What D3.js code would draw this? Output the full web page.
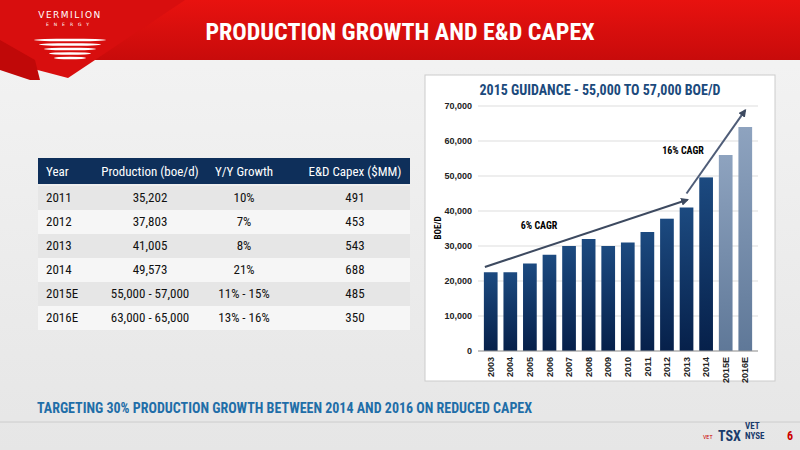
<!DOCTYPE html><html><head><meta charset="utf-8"><script src="https://cdn.jsdelivr.net/npm/d3@7"></script>
<style>body{margin:0}svg{font-family:"Liberation Sans Narrow","Roboto Condensed",Arial,sans-serif}</style></head><body>
<svg id="s" width="800" height="450"></svg>
<script>
const years=["2003","2004","2005","2006","2007","2008","2009","2010","2011","2012","2013","2014","2015E","2016E"];
const production=[22500,22500,25000,27500,30000,32000,30000,31000,34000,37800,41000,49600,56000,64000];
const estimated=[false,false,false,false,false,false,false,false,false,false,false,false,true,true];
const yTicks=[0,10000,20000,30000,40000,50000,60000,70000];
const tableHeader=["Year","Production (boe/d)","Y/Y Growth","E&D Capex ($MM)"];
const tableYears=["2011","2012","2013","2014","2015E","2016E"];
const tableProd=["35,202","37,803","41,005","49,573","55,000 - 57,000","63,000 - 65,000"];
const tableGrowth=["10%","7%","8%","21%","11% - 15%","13% - 16%"];
const tableCapex=["491","453","543","688","485","350"];

const svg=d3.select("#s");
const defs=svg.append("defs");
const bg=defs.append("linearGradient").attr("id","bg").attr("x1",0).attr("y1",0).attr("x2",0).attr("y2",1);
bg.append("stop").attr("offset",0).attr("stop-color","#f4f4f4");bg.append("stop").attr("offset",1).attr("stop-color","#e6e6e6");
svg.append("rect").attr("width",800).attr("height",450).attr("fill","url(#bg)");
// header
const rg=defs.append("linearGradient").attr("id","rg").attr("x1",0).attr("y1",0).attr("x2",0).attr("y2",1);
rg.append("stop").attr("offset",0).attr("stop-color","#e8120f");rg.append("stop").attr("offset",1).attr("stop-color","#c80b0b");
svg.append("rect").attr("width",800).attr("height",60).attr("fill","url(#rg)");
svg.append("path").attr("d","M0,0L185,0L68,78L30,68L0,45Z").attr("fill","#d80e0e");
svg.append("path").attr("d","M0,40L35,60L40,80L30,80L0,70Z").attr("fill","#c00808");
svg.append("text").attr("x",70).attr("y",18).attr("text-anchor","middle").attr("fill","#fff").attr("font-size",9).attr("font-family","DejaVu Sans").attr("letter-spacing",1.5).text("VERMILION");
svg.append("text").attr("x",70).attr("y",26).attr("text-anchor","middle").attr("fill","#fff").attr("font-size",4.5).attr("font-family","DejaVu Sans").attr("letter-spacing",5).text("ENERGY");
[0,1,2,3,4].forEach(i=>svg.append("ellipse").attr("cx",70).attr("cy",40+i*4.5).attr("rx",36-i*5).attr("ry",1.3).attr("fill","#fff"));
svg.append("text").attr("x",400).attr("y",40).attr("text-anchor","middle").attr("fill","#fff").attr("font-size",24).attr("font-weight","bold").text("PRODUCTION GROWTH AND E&D CAPEX");

// chart panel
svg.append("rect").attr("x",425).attr("y",75).attr("width",350).attr("height",306).attr("fill","#fff").attr("stroke","#ccc");
svg.append("text").attr("x",600).attr("y",95).attr("text-anchor","middle").attr("fill","#1b4a7c").attr("font-size",14).attr("font-weight","bold").text("2015 GUIDANCE - 55,000 TO 57,000 BOE/D");
const x=d3.scaleBand().domain(years).range([478,758]).padding(0.3);
const y=d3.scaleLinear().domain([0,70000]).range([351,106]);
const g=svg.append("g");
g.selectAll(".gl").data(yTicks).join("line").attr("x1",478).attr("x2",758).attr("y1",d=>y(d)).attr("y2",d=>y(d)).attr("stroke","#ddd");
const ya=g.append("g").attr("transform","translate(478,0)").call(d3.axisLeft(y).tickValues(yTicks).tickSize(0).tickPadding(6).tickFormat(d3.format(",")));
ya.select(".domain").remove();ya.selectAll("text").attr("font-size",9).attr("font-weight","bold").attr("fill","#222").attr("font-family","Liberation Sans Narrow, Arial");
const bgd=defs.append("linearGradient").attr("id","bd").attr("x1",0).attr("y1",0).attr("x2",0).attr("y2",1);
bgd.append("stop").attr("offset",0).attr("stop-color","#1c4a80");bgd.append("stop").attr("offset",1).attr("stop-color","#06204a");
const bge=defs.append("linearGradient").attr("id","be").attr("x1",0).attr("y1",0).attr("x2",0).attr("y2",1);
bge.append("stop").attr("offset",0).attr("stop-color","#8ea3bf");bge.append("stop").attr("offset",1).attr("stop-color","#5f7898");
g.selectAll(".b").data(years).join("rect").attr("x",d=>x(d)).attr("width",x.bandwidth()).attr("y",(d,i)=>y(production[i])).attr("height",(d,i)=>y(0)-y(production[i])).attr("fill",(d,i)=>estimated[i]?"url(#be)":"url(#bd)");
g.append("line").attr("x1",478).attr("x2",758).attr("y1",y(0)).attr("y2",y(0)).attr("stroke","#999");
const xa=g.append("g").attr("transform",`translate(0,${y(0)})`).call(d3.axisBottom(x).tickSize(0));
xa.select(".domain").remove();
xa.selectAll("text").attr("transform","rotate(-90)").attr("x",-6).attr("y",0).attr("dy","0.35em").attr("text-anchor","end").attr("font-size",9).attr("font-weight","bold").attr("fill","#222");
svg.append("text").attr("transform","translate(441,228) rotate(-90)").attr("text-anchor","middle").attr("font-size",9).attr("font-weight","bold").text("BOE/D");
// arrows
const mk=defs.append("marker").attr("id","ar").attr("viewBox","0 0 10 10").attr("refX",8).attr("refY",5).attr("markerWidth",4).attr("markerHeight",4).attr("orient","auto");
mk.append("path").attr("d","M0,0L10,5L0,10Z").attr("fill","#3d4a60");
const xi=i=>x(years[0])+x.step()*i+x.bandwidth()/2;
svg.append("line").attr("x1",xi(-0.3)).attr("y1",y(24000)).attr("x2",xi(10.05)).attr("y2",y(43200)).attr("stroke","#3d4a60").attr("stroke-width",2).attr("marker-end","url(#ar)");
svg.append("line").attr("x1",xi(10)).attr("y1",y(45000)).attr("x2",xi(13)).attr("y2",y(68800)).attr("stroke","#4f5d78").attr("stroke-width",2).attr("marker-end","url(#ar)");
svg.append("text").attr("x",539).attr("y",229).attr("text-anchor","middle").attr("font-size",10).attr("font-weight","bold").text("6% CAGR");
svg.append("text").attr("x",683).attr("y",154).attr("text-anchor","middle").attr("font-size",10).attr("font-weight","bold").text("16% CAGR");

// table
const cols=[[40,"start",46],[200,"middle",150],[263,"middle",244],[355,"middle",355]];
const colX=[46,150,244,355];
svg.append("rect").attr("x",38).attr("y",158).attr("width",372).attr("height",26).attr("fill","#0e2f5a");
tableHeader.forEach((h,i)=>svg.append("text").attr("x",i==0?46:colX[i]).attr("y",176).attr("text-anchor",i==0?"start":"middle").attr("fill","#fff").attr("font-size",13).text(h));
tableYears.forEach((yr,r)=>{
  const ty=186+r*24;
  svg.append("rect").attr("x",38).attr("y",ty).attr("width",372).attr("height",24).attr("fill",r%2?"#f6f6f6":"#e6e6e6");
  [yr,tableProd[r],tableGrowth[r],tableCapex[r]].forEach((v,i)=>svg.append("text").attr("x",i==0?46:colX[i]).attr("y",ty+16).attr("text-anchor",i==0?"start":"middle").attr("fill","#111").attr("font-size",13).text(v));
});
svg.append("text").attr("x",37).attr("y",413).attr("fill","#1f6ea8").attr("font-size",14).attr("font-weight","bold").text("TARGETING 30% PRODUCTION GROWTH BETWEEN 2014 AND 2016 ON REDUCED CAPEX");
svg.append("line").attr("x1",0).attr("x2",800).attr("y1",422).attr("y2",422).attr("stroke","#ccc");
svg.append("text").attr("x",718).attr("y",441).attr("fill","#1b3c6c").attr("font-size",14).attr("font-weight","bold").text("TSX");
svg.append("text").attr("x",745).attr("y",439).attr("fill","#1b3c6c").attr("font-size",9).attr("font-weight","bold").text("NYSE");
svg.append("text").attr("x",745).attr("y",429).attr("fill","#1b3c6c").attr("font-size",9).attr("font-weight","bold").text("VET");
svg.append("text").attr("x",703).attr("y",439).attr("fill","#c00").attr("font-size",6).text("VET");
svg.append("text").attr("x",787).attr("y",440).attr("fill","#c00").attr("font-size",12).attr("font-weight","bold").text("6");
</script></body></html>
